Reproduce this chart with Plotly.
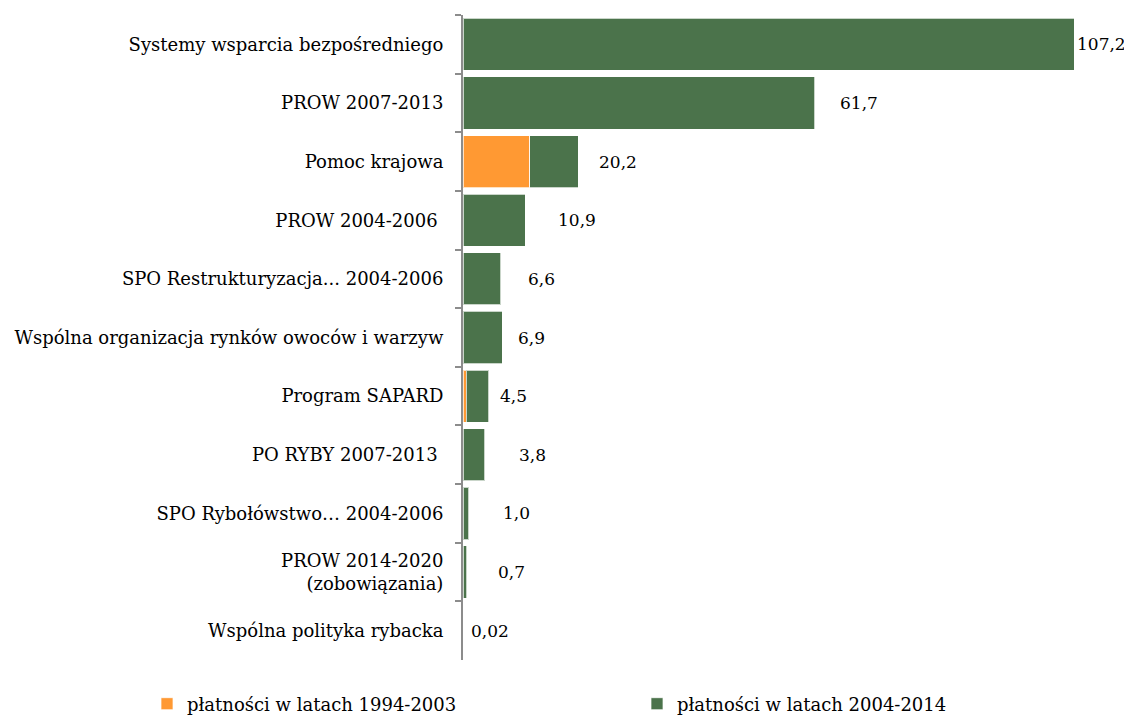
import plotly.graph_objects as go

categories = [
    "Systemy wsparcia bezpośredniego",
    "PROW 2007-2013",
    "Pomoc krajowa",
    "PROW 2004-2006\u00a0",
    "SPO Restrukturyzacja... 2004-2006",
    "Wspólna organizacja rynków owoców i warzyw",
    "Program SAPARD",
    "PO RYBY 2007-2013\u00a0",
    "SPO Rybołówstwo… 2004-2006",
    "PROW 2014-2020<br>(zobowiązania)",
    "Wspólna polityka rybacka",
]
pay_1994_2003 = [0, 0, 11.7, 0, 0, 0, 0.6, 0, 0, 0, 0]
pay_2004_2014 = [107.2, 61.7, 8.5, 10.9, 6.6, 6.9, 3.9, 3.8, 1.0, 0.7, 0.02]
total_labels = ["107,2", "61,7", "20,2", "10,9", "6,6", "6,9", "4,5", "3,8", "1,0", "0,7", "0,02"]
label_shift_px = [1, 23, 19, 31, 25, 14, 9, 32, 32, 29, 6]

FONT = "DejaVu Serif"
ORANGE = "#FF9933"
GREEN = "#4B734B"

fig = go.Figure()
fig.add_trace(go.Bar(
    y=categories, x=pay_1994_2003, orientation="h",
    name="płatności w latach 1994-2003", legend="legend", showlegend=True,
    marker=dict(color=ORANGE, line=dict(color="rgba(255,255,255,0.7)", width=1)),
))
fig.add_trace(go.Bar(
    y=categories, x=pay_2004_2014, orientation="h",
    name="płatności w latach 2004-2014", legend="legend2", showlegend=True,
    marker=dict(color=GREEN, line=dict(color="rgba(255,255,255,0.7)", width=1)),
))

totals = [a + b for a, b in zip(pay_1994_2003, pay_2004_2014)]
for cat, tot, lab, sh in zip(categories, totals, total_labels, label_shift_px):
    fig.add_annotation(x=tot, y=cat, text=lab, showarrow=False,
                       xanchor="left", yanchor="middle", xshift=sh,
                       font=dict(family=FONT, size=17, color="black"))

W, H = 1124, 707
legend_style = dict(orientation="h", xref="container", yref="container",
                    y=1 - 696 / H, xanchor="left", yanchor="middle",
                    font=dict(family=FONT, size=18), bgcolor="rgba(0,0,0,0)")

fig.update_layout(
    barmode="stack",
    bargap=0.11,
    width=W, height=H,
    showlegend=True,
    margin=dict(l=455, r=15, t=7, b=55),
    plot_bgcolor="white", paper_bgcolor="white",
    font=dict(family=FONT, size=18, color="black"),
    legend=dict(x=139 / W, **legend_style),
    legend2=dict(x=629 / W, **legend_style),
    xaxis=dict(range=[0, 114.7], visible=False, showgrid=False, zeroline=False),
    yaxis=dict(autorange="reversed", showline=True, linecolor="#8C8C8C", linewidth=2,
               ticks="outside", ticklen=6, tickcolor="#8C8C8C", tickwidth=2,
               tickson="boundaries", showgrid=False, ticklabelstandoff=14,
               tickfont=dict(family=FONT, size=18)),
)

fig.write_html("out.html")
